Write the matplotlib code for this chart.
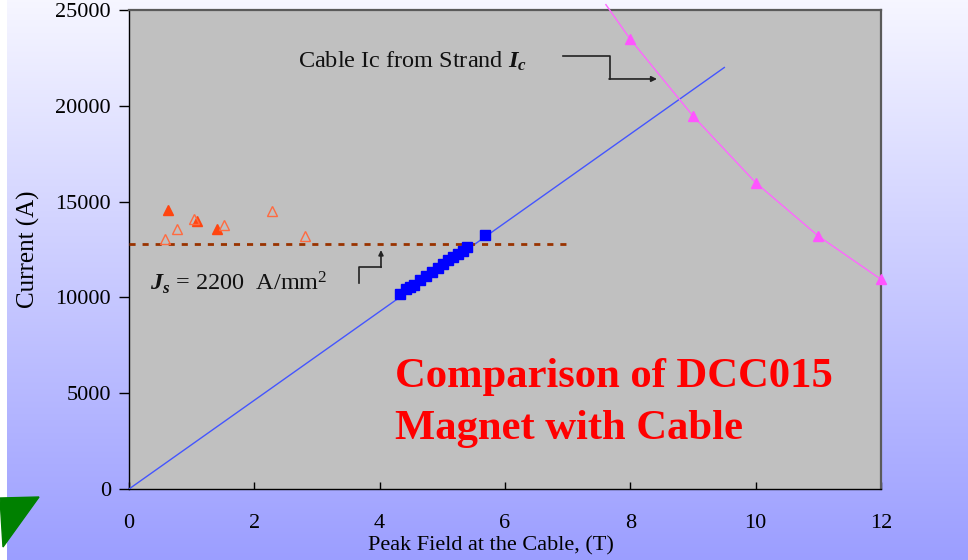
import numpy as np
import matplotlib
matplotlib.use("Agg")
import matplotlib.pyplot as plt
from matplotlib.patches import Polygon

plt.rcParams['font.family'] = ['Liberation Serif', 'DejaVu Serif']
plt.rcParams['mathtext.fontset'] = 'custom'
plt.rcParams['mathtext.rm'] = 'Liberation Serif'
plt.rcParams['mathtext.it'] = 'Liberation Serif:italic:bold'
plt.rcParams['mathtext.bf'] = 'Liberation Serif:bold'

# ---- data ----
load_line_field = [0, 9.5]
load_line_current = [0, 22000]

magnet_field = [4.32, 4.42, 4.48, 4.55, 4.64, 4.74, 4.84, 4.93, 5.01, 5.09,
                5.17, 5.25, 5.33, 5.39, 5.68]
magnet_current = [10180, 10440, 10540, 10650, 10910, 11120, 11330, 11530, 11740,
                  11950, 12110, 12270, 12420, 12630, 13260]

strand_field = [8, 9, 10, 11, 12]
strand_current = [23470, 19470, 15990, 13200, 10940]
strand_curve_field = [7.61, 8, 9, 10, 11, 12]
strand_curve_current = [25280, 23470, 19470, 15990, 13200, 10940]

filled_field = [0.62, 1.09, 1.40]
filled_current = [14560, 14000, 13570]
open_field = [0.57, 0.77, 1.04, 1.52, 2.28, 2.81]
open_current = [13050, 13570, 14090, 13780, 14510, 13210]

js_field = [0, 7.0]
js_current = [12780, 12780]

x_ticks = [0, 2, 4, 6, 8, 10, 12]
y_ticks = [0, 5000, 10000, 15000, 20000, 25000]

# ---- figure ----
W, H = 968, 560
fig = plt.figure(figsize=(W / 100, H / 100), dpi=100)

# gradient background
bg = fig.add_axes([7 / W, 0, 1 - 7 / W, 1])
bg.set_axis_off()
top = np.array([0.965, 0.965, 1.0])
bot = np.array([0.61, 0.62, 1.0])
t = np.linspace(0, 1, 256)[:, None]
grad = top[None, :] * (1 - t) + bot[None, :] * t
bg.imshow(grad[:, None, :], aspect='auto', extent=[0, 1, 0, 1])

# green triangle (decoration)
tri = Polygon([[0, 1 - 498 / H], [39 / W, 1 - 497 / H], [3 / W, 1 - 547 / H]],
              closed=True, transform=fig.transFigure, color='#008000', zorder=5)
fig.patches.append(tri)

ax = fig.add_axes([129 / W, 1 - 489 / H, 752 / W, 479 / H])
ax.set_facecolor('#c0c0c0')
ax.set_xlim(0, 12)
ax.set_ylim(0, 25000)

ax.plot(load_line_field, load_line_current, color='#4455ff', lw=1.0, zorder=3)
ax.plot(strand_curve_field, strand_curve_current, color='#ff66ff', lw=1.0,
        clip_on=False, zorder=3)
ax.plot(strand_field, strand_current, ls='none', marker='^', ms=7.5,
        color='#ff55ff', clip_on=False, zorder=4)
ax.plot(js_field, js_current, color='#993300', lw=2.0, ls=(0, (2.2, 2.5)), zorder=3)
ax.plot(magnet_field, magnet_current, ls='none', marker='s', ms=6.5,
        color='#0000ff', zorder=4)
ax.plot(filled_field, filled_current, ls='none', marker='^', ms=6.5,
        color='#ff4510', zorder=4)
ax.plot(open_field, open_current, ls='none', marker='^', ms=7,
        mfc='none', mec='#ff6a40', mew=1.0, zorder=4)

# annotations
ax.text(2.70, 22340, r"Cable Ic from Strand $I_c$", fontsize=17.5,
        va='center', ha='left', color='#111111')
ax.plot([6.925, 7.675, 7.675], [22600, 22600, 21400], color='#222222', lw=1.2)
ax.annotate('', xy=(8.425, 21400), xytext=(7.66, 21400),
            arrowprops=dict(arrowstyle='-|>', color='#222222', lw=1.2,
                            mutation_scale=8, shrinkA=0, shrinkB=0))

ax.text(0.335, 10760, r"$J_s$ = 2200  A/mm$^2$", fontsize=17.5,
        va='center', ha='left', color='#111111')
ax.plot([3.670, 3.670, 4.021], [10750, 11590, 11590], color='#222222', lw=1.2)
ax.annotate('', xy=(4.021, 12470), xytext=(4.021, 11570),
            arrowprops=dict(arrowstyle='-|>', color='#222222', lw=1.2,
                            mutation_scale=7, shrinkA=0, shrinkB=0))

ax.text(4.245, 4480, "Comparison of DCC015\nMagnet with Cable", fontsize=30.7,
        fontweight='bold', color='#ff0000', va='center', ha='left',
        linespacing=1.5)

# spines & ticks
for s in ['left', 'bottom']:
    ax.spines[s].set_color('black')
    ax.spines[s].set_linewidth(1.0)
for s in ['top', 'right']:
    ax.spines[s].set_color('#5a5a5a')
    ax.spines[s].set_linewidth(1.6)

ax.set_xticks(x_ticks)
ax.set_yticks(y_ticks)
ax.set_xticklabels([str(v) for v in x_ticks])
ax.set_yticklabels([str(v) for v in y_ticks])
ax.tick_params(axis='x', direction='in', length=5, width=1, pad=18, labelsize=16)
ax.tick_params(axis='y', direction='out', length=7, width=1, pad=6, labelsize=16)

ax.set_xlabel("Peak Field at the Cable, (T)", fontsize=16)
ax.xaxis.set_label_coords(0.481, -0.098)
ax.set_ylabel("Current (A)", fontsize=18)
ax.yaxis.set_label_coords(-0.118, 0.5)

fig.savefig("out.png", dpi=100)
